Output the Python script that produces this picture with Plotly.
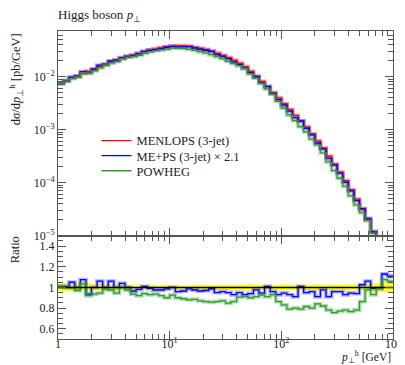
import numpy as np
import plotly.graph_objects as go

# ---------------- data ----------------
# bin edges in p_perp (GeV): 20 log bins per decade from 1 to 1000
bin_edges = np.logspace(0, 3, 61)

# MENLOPS (3-jet) differential cross section per bin [pb/GeV]
menlops = [7.41e-3, 8.32e-3, 9.33e-3, 1.02e-2, 1.15e-2, 1.26e-2, 1.38e-2, 1.55e-2, 1.70e-2, 1.86e-2,
           2.04e-2, 2.19e-2, 2.40e-2, 2.57e-2, 2.75e-2, 2.95e-2, 3.16e-2, 3.31e-2, 3.47e-2, 3.63e-2,
           3.72e-2, 3.80e-2, 3.80e-2, 3.72e-2, 3.55e-2, 3.39e-2, 3.24e-2, 3.02e-2, 2.75e-2, 2.51e-2,
           2.29e-2, 2.04e-2, 1.78e-2, 1.55e-2, 1.26e-2, 1.02e-2, 8.13e-3, 6.46e-3, 5.01e-3, 3.98e-3,
           3.09e-3, 2.40e-3, 1.86e-3, 1.45e-3, 1.12e-3, 8.32e-4, 6.17e-4, 4.47e-4, 3.16e-4, 2.24e-4,
           1.58e-4, 1.10e-4, 7.41e-5, 4.90e-5, 3.16e-5, 2.00e-5, 1.20e-5, 7.08e-6, 3.98e-6, 2.00e-6]

# ratio ME+PS (3-jet) x 2.1 / MENLOPS
ratio_meps = [1.01, 1.01, 1.05, 1.00, 1.075, 0.935, 1.00, 1.06, 1.00, 1.06,
              1.00, 1.04, 1.00, 0.965, 0.98, 1.01, 0.99, 0.975, 0.975, 0.985,
              1.00, 0.96, 0.965, 0.985, 0.975, 0.965, 0.97, 0.987, 0.95, 0.96,
              0.95, 0.93, 0.95, 0.93, 0.94, 0.977, 0.945, 1.01, 0.96, 0.93,
              0.945, 0.93, 0.91, 1.01, 0.95, 0.96, 0.91, 0.977, 0.91, 0.96,
              0.96, 0.93, 0.945, 0.94, 1.026, 1.06, 0.99, 0.99, 1.13, 1.11]

# ratio POWHEG / MENLOPS
ratio_powheg = [1.01, 1.00, 0.995, 0.97, 1.035, 0.92, 0.935, 0.945, 0.98, 0.975,
                0.945, 1.00, 0.975, 0.935, 0.92, 0.94, 0.93, 0.935, 0.92, 0.90,
                0.925, 0.90, 0.89, 0.88, 0.885, 0.87, 0.863, 0.857, 0.863, 0.87,
                0.847, 0.863, 0.905, 0.91, 0.90, 0.91, 0.925, 0.91, 0.93, 0.863,
                0.83, 0.79, 0.80, 0.79, 0.815, 0.80, 0.84, 0.82, 0.78, 0.756,
                0.77, 0.78, 0.766, 0.78, 0.863, 0.977, 0.93, 0.99, 1.075, 1.06]

# half-width of the MENLOPS uncertainty band in the ratio
band_halfwidth = [0.04, 0.04, 0.035, 0.04, 0.03, 0.04, 0.03, 0.03, 0.03, 0.025,
                  0.03, 0.025, 0.03, 0.02, 0.025, 0.02, 0.025, 0.02, 0.02, 0.025,
                  0.02, 0.02, 0.02, 0.02, 0.025, 0.025, 0.025, 0.025, 0.025, 0.025,
                  0.025, 0.025, 0.025, 0.025, 0.035, 0.025, 0.025, 0.025, 0.025, 0.025,
                  0.03, 0.025, 0.025, 0.03, 0.025, 0.025, 0.03, 0.025, 0.025, 0.03,
                  0.025, 0.03, 0.03, 0.03, 0.03, 0.035, 0.04, 0.04, 0.045, 0.05]

series_names = ["MENLOPS (3-jet)", "ME+PS (3-jet) × 2.1", "POWHEG"]
series_colors = ["#ff0000", "#0000ff", "#2e9b2e"]
halo_colors = ["rgba(255,0,0,0.35)", "rgba(0,0,255,0.3)", "rgba(46,155,46,0.35)"]

x_tickvals = [1, 10, 100, 1000]
x_ticktext = ["1", "10<sup>1</sup>", "10<sup>2</sup>", "10<sup>3</sup>"]
y_tickvals = [1e-5, 1e-4, 1e-3, 1e-2]
y_ticktext = ["10<sup>−5</sup>", "10<sup>−4</sup>", "10<sup>−3</sup>", "10<sup>−2</sup>"]
r_tickvals = [0.6, 0.8, 1.0, 1.2, 1.4]
r_ticktext = ["0.6", "0.8", "1", "1.2", "1.4"]

# ---------------- derived ----------------
menlops = np.array(menlops)
meps = menlops * np.array(ratio_meps)
powheg = menlops * np.array(ratio_powheg)
ones = np.ones(len(menlops))
band = np.array(band_halfwidth)


def step(v):
    v = list(v)
    return v + [v[-1]]


FONT = "Liberation Serif"
TXT = "#222"
fig = go.Figure()

legend_ids = ["legend", "legend2", "legend3"]

# main panel
for vals, col, halo in zip([menlops, meps, powheg], series_colors, halo_colors):
    fig.add_trace(go.Scatter(x=bin_edges, y=step(vals), mode="lines", line_shape="hv",
                             line=dict(color=halo, width=4), showlegend=False, hoverinfo="skip",
                             xaxis="x", yaxis="y"))
for vals, name, col, lg in zip([menlops, meps, powheg], series_names, series_colors, legend_ids):
    fig.add_trace(go.Scatter(x=bin_edges, y=step(vals), mode="lines", line_shape="hv",
                             line=dict(color=col, width=1.3), name=name, legend=lg,
                             xaxis="x", yaxis="y"))

# ratio panel: band
fig.add_trace(go.Scatter(x=bin_edges, y=step(ones - band), mode="lines", line_shape="hv",
                         line=dict(color="rgba(0,0,0,0)", width=0), showlegend=False,
                         xaxis="x2", yaxis="y2"))
fig.add_trace(go.Scatter(x=bin_edges, y=step(ones + band), mode="lines", line_shape="hv",
                         line=dict(color="rgba(0,0,0,0)", width=0), fill="tonexty",
                         fillcolor="#ffff22", showlegend=False, xaxis="x2", yaxis="y2"))
for r, col, halo in zip([ratio_meps, ratio_powheg], series_colors[1:], halo_colors[1:]):
    fig.add_trace(go.Scatter(x=bin_edges, y=step(r), mode="lines", line_shape="hv",
                             line=dict(color=halo, width=4), showlegend=False,
                             xaxis="x2", yaxis="y2"))
    fig.add_trace(go.Scatter(x=bin_edges, y=step(r), mode="lines", line_shape="hv",
                             line=dict(color=col, width=1.3), showlegend=False,
                             xaxis="x2", yaxis="y2"))
fig.add_trace(go.Scatter(x=bin_edges, y=step(ones), mode="lines", line_shape="hv",
                         line=dict(color="black", width=1.5), showlegend=False,
                         xaxis="x2", yaxis="y2"))

x_minor = [m * 10 ** e for e in range(0, 3) for m in range(2, 10)]
y_minor = [m * 10 ** e for e in range(-6, 0) for m in range(2, 10)]

axis_common = dict(showline=True, linecolor="#555", linewidth=1, mirror="allticks",
                   ticks="inside", ticklen=8, tickcolor="#555", showgrid=False, zeroline=False,
                   tickfont=dict(family=FONT, size=12, color=TXT))

split = 0.335
# plot area spans screen y 23..331 (308 px)
leg_rows_y = [0.643, 0.594, 0.545]
leg_common = dict(x=0.115, xanchor="left", yanchor="middle", bgcolor="rgba(0,0,0,0)",
                  font=dict(family=FONT, size=12.5, color=TXT), itemwidth=30)

fig.update_layout(
    width=405, height=365,
    margin=dict(l=50, r=13, t=23, b=34),
    paper_bgcolor="white", plot_bgcolor="white",
    font=dict(family=FONT, size=12, color=TXT),
    xaxis=dict(type="log", range=[0, 3], anchor="y", showticklabels=False,
               tickvals=x_tickvals,
               minor=dict(tickmode="array", tickvals=x_minor, ticks="inside", ticklen=5,
                          tickcolor="#555"),
               **axis_common),
    yaxis=dict(type="log", range=[-5, -1.14], domain=[split, 1], anchor="x",
               tickvals=y_tickvals, ticktext=y_ticktext,
               minor=dict(tickmode="array", tickvals=y_minor, ticks="inside", ticklen=5,
                          tickcolor="#555"),
               **axis_common),
    xaxis2=dict(type="log", range=[0, 3], anchor="y2", matches="x",
                tickvals=x_tickvals, ticktext=x_ticktext, ticklabelstandoff=-6,
                minor=dict(tickmode="array", tickvals=x_minor, ticks="inside", ticklen=5,
                           tickcolor="#555"),
                **axis_common),
    yaxis2=dict(range=[0.5, 1.5], domain=[0, split], anchor="x2",
                tickvals=r_tickvals, ticktext=r_ticktext,
                minor=dict(dtick=0.05, ticks="inside", ticklen=5, tickcolor="#555"),
                **axis_common),
    legend=dict(y=leg_rows_y[0], **leg_common),
    legend2=dict(y=leg_rows_y[1], **leg_common),
    legend3=dict(y=leg_rows_y[2], **leg_common),
    showlegend=True,
)

fig.add_annotation(text="Higgs boson <i>p</i><sub>⊥</sub>", xref="paper", yref="paper",
                   x=-0.005, y=1.015, xanchor="left", yanchor="bottom", showarrow=False,
                   font=dict(family=FONT, size=13, color=TXT))
fig.add_annotation(text="d<i>σ</i>/d<i>p</i><sub>⊥</sub><sup>h</sup> [pb/GeV]",
                   xref="paper", yref="paper", x=-0.125, y=1.0, xanchor="center",
                   yanchor="top", textangle=-90, showarrow=False,
                   font=dict(family=FONT, size=12.5, color=TXT))
fig.add_annotation(text="Ratio", xref="paper", yref="paper", x=-0.13, y=split + 0.005,
                   xanchor="center", yanchor="top", textangle=-90, showarrow=False,
                   font=dict(family=FONT, size=12.5, color=TXT))
fig.add_annotation(text="<i>p</i><sub>⊥</sub><sup>h</sup> [GeV]", xref="paper", yref="paper",
                   x=1.0, y=-0.09, xanchor="right", yanchor="bottom", showarrow=False,
                   font=dict(family=FONT, size=11.5, color=TXT))

fig.write_html("out.html")
